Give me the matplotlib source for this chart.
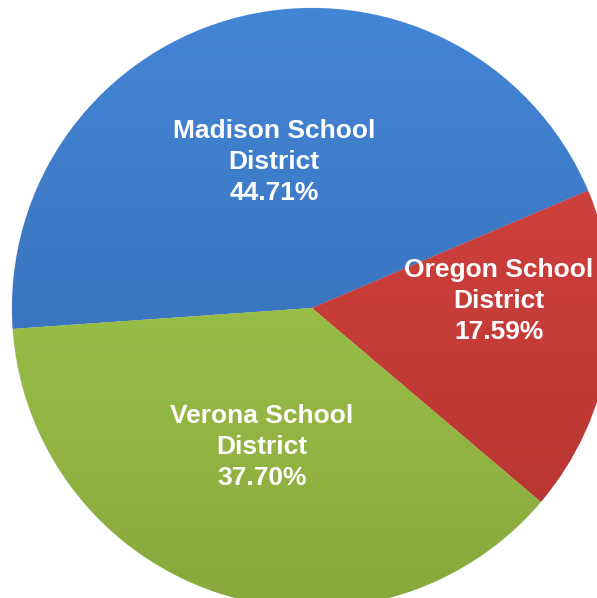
import numpy as np
import matplotlib
matplotlib.use("Agg")
import matplotlib.pyplot as plt
from matplotlib.colors import LinearSegmentedColormap

categories = ["Madison School\nDistrict", "Oregon School\nDistrict", "Verona School\nDistrict"]
shares = [44.71, 17.59, 37.70]
pct_labels = ["44.71%", "17.59%", "37.70%"]

top_colors = ["#4386D6", "#DA4642", "#A9D250"]
bottom_colors = ["#3467AC", "#B3332F", "#88A93D"]

W, H = 597, 598
fig = plt.figure(figsize=(W / 100, H / 100), dpi=100)
cx, cy, R = 312, 308, 300
ax = fig.add_axes([(cx - R) / W, (H - cy - R) / H, 2 * R / W, 2 * R / H])

wedges, _ = ax.pie(shares, colors=top_colors, startangle=184.0, counterclock=False,
                   radius=1, center=(0, 0), frame=True,
                   wedgeprops=dict(linewidth=0.6, edgecolor="#e8eef0"))
ax.set_xlim(-1, 1)
ax.set_ylim(-1, 1)
ax.set_aspect("equal")
ax.axis("off")

grad = np.linspace(1, 0, 256).reshape(-1, 1)
for w, ct, cb in zip(wedges, top_colors, bottom_colors):
    cmap = LinearSegmentedColormap.from_list("g", [cb, ct])
    im = ax.imshow(grad, cmap=cmap, extent=(-1, 1, -1, 1), origin="upper",
                   aspect="auto", zorder=w.get_zorder() + 0.1, vmin=0, vmax=1)
    im.set_clip_path(w)
    im.set_interpolation("bilinear")

label_pos = [(-0.127, 0.487), (0.623, 0.023), (-0.167, -0.463)]
for (x, y), cat, pct in zip(label_pos, categories, pct_labels):
    ax.text(x, y, cat + "\n" + pct, ha="center", va="center", color="white",
            fontsize=19, fontweight="bold", family=["Liberation Sans", "DejaVu Sans"],
            linespacing=1.36, zorder=10)

fig.savefig("out.png", dpi=100)
